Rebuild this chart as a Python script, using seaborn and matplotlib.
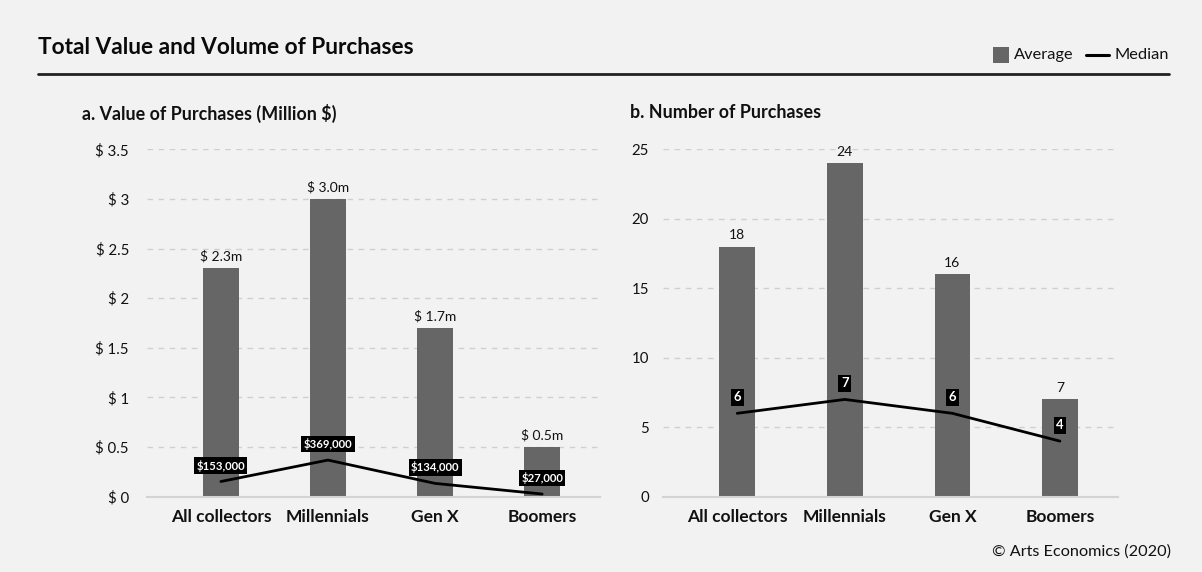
import matplotlib
matplotlib.use("Agg")
import matplotlib.pyplot as plt
from matplotlib.ticker import FuncFormatter, FixedLocator
from matplotlib.patches import Rectangle
from matplotlib.lines import Line2D
import seaborn as sns
import pandas as pd

# Data
groups = ["All collectors", "Millennials", "Gen X", "Boomers"]
value_avg = [2.3, 3.0, 1.7, 0.5]              # million $
value_median = [0.153, 0.369, 0.134, 0.027]   # million $
value_median_labels = ["$153,000", "$369,000", "$134,000", "$27,000"]
count_avg = [18, 24, 16, 7]
count_median = [6, 7, 6, 4]

value_ticks = [0, 0.5, 1, 1.5, 2, 2.5, 3, 3.5]
count_ticks = [0, 5, 10, 15, 20, 25]

BG = "#f2f2f2"
BAR = "#666666"
TXT = "#111111"
FONT = ["Lato", "DejaVu Sans"]

sns.set_theme(style="white")
plt.rcParams["font.family"] = FONT
plt.rcParams["text.color"] = TXT

W, H = 1202, 572
fig = plt.figure(figsize=(W / 100, H / 100), dpi=100, facecolor=BG)


def px_axes(x0, y0, x1, y1):
    return fig.add_axes([x0 / W, 1 - y1 / H, (x1 - x0) / W, (y1 - y0) / H])


def style_axes(ax, ticks, fmt, ypad):
    ax.set_facecolor(BG)
    ax.yaxis.set_major_locator(FixedLocator(ticks))
    ax.yaxis.set_major_formatter(FuncFormatter(fmt))
    ax.set_ylim(ticks[0], ticks[-1])
    ax.set_xlim(-0.69, 3.54)
    for s in ["top", "right", "left"]:
        ax.spines[s].set_visible(False)
    ax.spines["bottom"].set_color("#d3d3d3")
    ax.spines["bottom"].set_linewidth(1.5)
    ax.grid(axis="y", color="#cfcfcf", linewidth=1.0, linestyle=(0, (4, 4)))
    ax.grid(axis="x", visible=False)
    ax.set_axisbelow(True)
    ax.tick_params(axis="y", length=0, pad=ypad, labelsize=10.8, labelcolor=TXT)
    ax.tick_params(axis="x", length=0, pad=9, labelsize=12.5, labelcolor=TXT)
    for lbl in ax.get_xticklabels():
        lbl.set_fontweight("bold")
    ax.set_xlabel("")
    ax.set_ylabel("")


def draw_panel(ax, avg, med, med_labels, ticks, fmt, bar_fmt, ypad, box_fs):
    df = pd.DataFrame({"group": groups, "avg": avg, "med": med})
    sns.barplot(data=df, x="group", y="avg", order=groups, color=BAR,
                saturation=1, width=0.33, edgecolor="none", linewidth=0,
                ax=ax, zorder=2)
    sns.pointplot(data=df, x="group", y="med", order=groups, color="black",
                  markers="", linestyles="-", linewidth=2.0, errorbar=None,
                  ax=ax, zorder=3)
    ax.bar_label(ax.containers[0], labels=[bar_fmt(v) for v in avg],
                 padding=4, fontsize=10, color=TXT)
    for i, (m, lab) in enumerate(zip(med, med_labels)):
        ax.annotate(lab, (i, m), xytext=(0, 11.5), textcoords="offset points",
                    ha="center", va="center", color="white", fontsize=box_fs,
                    fontweight="bold", zorder=5,
                    bbox=dict(boxstyle="square,pad=0.2", fc="black", ec="none"))
    style_axes(ax, ticks, fmt, ypad)


def money_tick(v, _):
    return f"$ {v:g}"


ax_a = px_axes(147, 149.3, 600, 496.7)
draw_panel(ax_a, value_avg, value_median, value_median_labels, value_ticks,
           money_tick, lambda v: f"$ {v:.1f}m", 13, 8.2)

ax_b = px_axes(663, 149.3, 1118, 496.7)
draw_panel(ax_b, count_avg, count_median, [str(v) for v in count_median],
           count_ticks, lambda v, _: f"{v:g}", lambda v: f"{v:.0f}", 10, 9.4)

# Header
fig.text(38 / W, 1 - 47 / H, "Total Value and Volume of Purchases",
         fontsize=16.3, fontweight="bold", ha="left", va="center", color="#0a0a0a")
fig.add_artist(Line2D([38 / W, 1169 / W], [1 - 74 / H, 1 - 74 / H],
                      color="#222222", linewidth=2.0, transform=fig.transFigure))

# Legend
fig.add_artist(Rectangle((993 / W, 1 - 63 / H), 16 / W, 16 / H,
                         facecolor=BAR, edgecolor="none", transform=fig.transFigure))
fig.text(1014 / W, 1 - 55 / H, "Average", fontsize=11.8, ha="left", va="center")
fig.add_artist(Line2D([1086 / W, 1109 / W], [1 - 55 / H, 1 - 55 / H],
                      color="black", linewidth=2.2, transform=fig.transFigure))
fig.text(1115 / W, 1 - 55 / H, "Median", fontsize=11.8, ha="left", va="center")

# Panel titles
fig.text(82 / W, 1 - 113 / H, "a. Value of Purchases (Million $)",
         fontsize=12.9, fontweight="bold", ha="left", va="center")
fig.text(630 / W, 1 - 113 / H, "b. Number of Purchases",
         fontsize=12.9, fontweight="bold", ha="left", va="center")

# Source
fig.text(1171 / W, 1 - 552 / H, "\u00a9 Arts Economics (2020)",
         fontsize=11.7, ha="right", va="center")

fig.savefig("out.png", dpi=100, facecolor=BG)
